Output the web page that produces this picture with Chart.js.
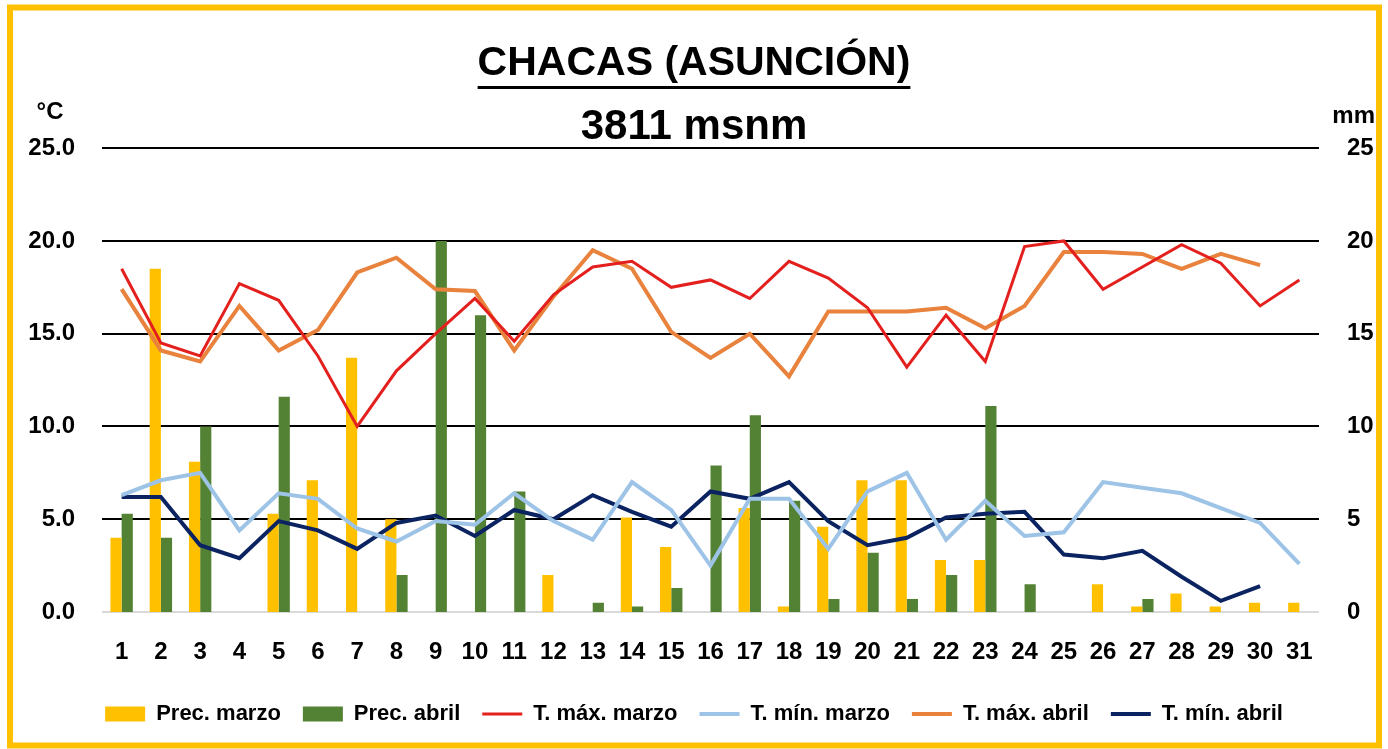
<!DOCTYPE html>
<html>
<head>
<meta charset="utf-8">
<script src="https://cdn.jsdelivr.net/npm/chart.js@4.4.0/dist/chart.umd.min.js"></script>
<style>
  html, body { margin: 0; padding: 0; background: #fff; }
  #wrap { width: 1388px; height: 749px; }
</style>
</head>
<body>
<div id="wrap"><canvas id="climaChart" width="1388" height="749"></canvas></div>
<script>
// dias del mes
var dias = ['1','2','3','4','5','6','7','8','9','10','11','12','13','14','15','16',
            '17','18','19','20','21','22','23','24','25','26','27','28','29','30','31'];

// precipitacion (mm)
var precMarzo = [4.0, 18.5, 8.1, null, 5.3, 7.1, 13.7, 5.0, null, null, null, 2.0, null, 5.1, 3.5, null,
                 5.6, 0.3, 4.6, 7.1, 7.1, 2.8, 2.8, null, null, 1.5, 0.3, 1.0, 0.3, 0.5, 0.5];
var precAbril = [5.3, 4.0, 10.0, null, 11.6, null, null, 2.0, 20.0, 16.0, 6.5, null, 0.5, 0.3, 1.3, 7.9,
                 10.6, 6.0, 0.7, 3.2, 0.7, 2.0, 11.1, 1.5, null, null, 0.7, null, null, null, null];

// temperaturas (°C)
var tMaxMarzo = [18.5, 14.5, 13.8, 17.7, 16.8, 13.8, 10.0, 13.0, 15.0, 16.9, 14.6, 17.1, 18.6, 18.9, 17.5, 17.9,
                 16.9, 18.9, 18.0, 16.4, 13.2, 16.0, 13.5, 19.7, 20.0, 17.4, 18.6, 19.8, 18.8, 16.5, 17.9];
var tMinMarzo = [6.3, 7.1, 7.5, 4.4, 6.4, 6.1, 4.5, 3.8, 4.9, 4.7, 6.4, 4.9, 3.9, 7.0, 5.5, 2.5,
                 6.1, 6.1, 3.4, 6.5, 7.5, 3.9, 6.0, 4.1, 4.3, 7.0, 6.7, 6.4, 5.6, 4.8, 2.6];
var tMaxAbril = [17.4, 14.1, 13.5, 16.5, 14.1, 15.2, 18.3, 19.1, 17.4, 17.3, 14.1, 17.0, 19.5, 18.5, 15.1, 13.7,
                 15.0, 12.7, 16.2, 16.2, 16.2, 16.4, 15.3, 16.5, 19.4, 19.4, 19.3, 18.5, 19.3, 18.7, null];
var tMinAbril = [6.2, 6.2, 3.6, 2.9, 4.9, 4.4, 3.4, 4.8, 5.2, 4.1, 5.5, 5.0, 6.3, 5.4, 4.6, 6.5,
                 6.1, 7.0, 4.9, 3.6, 4.0, 5.1, 5.3, 5.4, 3.1, 2.9, 3.3, 1.9, 0.6, 1.4, null];

var fuente = "'Liberation Sans', Arial, sans-serif";

// marco amarillo, subrayado del titulo y unidades
var decoracion = {
  id: 'decoracion',
  beforeDraw: function(chart) {
    var ctx = chart.ctx;
    ctx.save();
    ctx.fillStyle = '#fff';
    ctx.fillRect(0, 0, chart.width, chart.height);
    ctx.restore();
  },
  afterDraw: function(chart) {
    var ctx = chart.ctx;
    ctx.save();
    // subrayado
    ctx.font = 'bold 41px ' + fuente;
    var w = ctx.measureText('CHACAS (ASUNCIÓN)').width;
    var cx = (chart.titleBlock.left + chart.titleBlock.right) / 2;
    ctx.fillStyle = '#000';
    ctx.fillRect(cx - w / 2, 86, w, 3);
    // unidades
    ctx.font = 'bold 24px ' + fuente;
    ctx.textBaseline = 'middle';
    ctx.textAlign = 'center';
    ctx.fillText('°C', 50, 112);
    ctx.textAlign = 'right';
    ctx.fillText('mm', 1375, 116);
    // marco
    ctx.strokeStyle = '#FFC000';
    ctx.lineWidth = 6;
    ctx.strokeRect(10, 7.5, 1369, 738);
    ctx.restore();
  }
};

var ctx = document.getElementById('climaChart').getContext('2d');

var data = {
  labels: dias,
  datasets: [
    { type: 'bar', label: 'Prec. marzo', data: precMarzo, backgroundColor: '#FFC000',
      yAxisID: 'y2', order: 2, categoryPercentage: 0.57, barPercentage: 1 },
    { type: 'bar', label: 'Prec. abril', data: precAbril, backgroundColor: '#548235',
      yAxisID: 'y2', order: 2, categoryPercentage: 0.57, barPercentage: 1 },
    { type: 'line', label: 'T. máx. marzo', data: tMaxMarzo, borderColor: '#E3201E', backgroundColor: '#E3201E',
      borderWidth: 3, pointRadius: 0, tension: 0, yAxisID: 'y', order: 1 },
    { type: 'line', label: 'T. mín. marzo', data: tMinMarzo, borderColor: '#9DC3E6', backgroundColor: '#9DC3E6',
      borderWidth: 4, pointRadius: 0, tension: 0, yAxisID: 'y', order: 1 },
    { type: 'line', label: 'T. máx. abril', data: tMaxAbril, borderColor: '#E8823C', backgroundColor: '#E8823C',
      borderWidth: 4, pointRadius: 0, tension: 0, yAxisID: 'y', order: 1 },
    { type: 'line', label: 'T. mín. abril', data: tMinAbril, borderColor: '#0B2461', backgroundColor: '#0B2461',
      borderWidth: 4, pointRadius: 0, tension: 0, yAxisID: 'y', order: 1 }
  ]
};

var options = {
  responsive: false,
  animation: false,
  layout: { padding: { top: 0, left: 0, right: 0, bottom: 14 } },
  scales: {
    x: {
      grid: { display: false, drawTicks: false },
      border: { display: false },
      ticks: { color: '#000', font: { family: fuente, size: 24, weight: 'bold' }, padding: 26,
               maxRotation: 0, autoSkip: false },
      afterFit: function(s) { s.height = 69; }
    },
    y: {
      position: 'left', min: 0, max: 25,
      grid: {
        color: function(c) { return c.tick && c.tick.value === 0 ? '#D9D9D9' : '#000'; },
        lineWidth: 2, drawTicks: false
      },
      border: { display: false },
      ticks: { stepSize: 5, color: '#000', padding: 27,
               font: { family: fuente, size: 24, weight: 'bold' },
               callback: function(v) { return v.toFixed(1); } },
      afterFit: function(s) { s.width = 102; }
    },
    y2: {
      position: 'right', min: 0, max: 25,
      grid: { display: false, drawTicks: false },
      border: { display: false },
      ticks: { stepSize: 5, color: '#000', padding: 28,
               font: { family: fuente, size: 24, weight: 'bold' } },
      afterFit: function(s) { s.width = 69; }
    }
  },
  plugins: {
    title: {
      display: true, text: 'CHACAS (ASUNCIÓN)', color: '#000',
      font: { family: fuente, size: 41, weight: 'bold', lineHeight: 1.2 },
      padding: { top: 39, bottom: 0 }
    },
    subtitle: {
      display: true, text: '3811 msnm', color: '#000',
      font: { family: fuente, size: 42, weight: 'bold', lineHeight: 1.0 },
      padding: { top: 18, bottom: 0 }
    },
    legend: {
      position: 'bottom',
      labels: {
        color: '#000', font: { family: fuente, size: 22, weight: 'bold' },
        usePointStyle: true, pointStyleWidth: 40, boxHeight: 15, padding: 22,
        generateLabels: function(chart) {
          var items = Chart.defaults.plugins.legend.labels.generateLabels(chart);
          items.forEach(function(it) {
            var ds = chart.data.datasets[it.datasetIndex];
            it.pointStyle = ds.type === 'line' ? 'line' : 'rect';
          });
          return items.sort(function(a, b) { return a.datasetIndex - b.datasetIndex; });
        }
      }
    },
    tooltip: { enabled: false }
  }
};

var climaChart = new Chart(ctx, {
  data: data,
  options: options,
  plugins: [decoracion]
});
</script>
</body>
</html>
